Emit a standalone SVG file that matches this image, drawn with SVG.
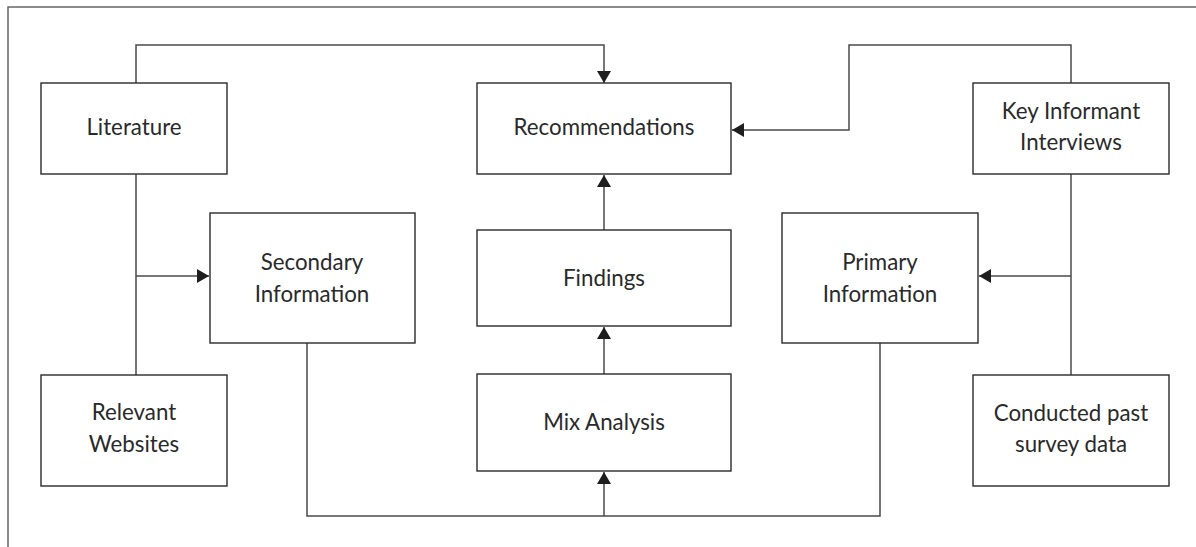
<svg xmlns="http://www.w3.org/2000/svg" width="1196" height="547" viewBox="0 0 1196 547">
<style>
.box{fill:#fff;stroke:#2a2a2a;stroke-width:1.4}
.con{fill:none;stroke:#4a4a4a;stroke-width:1.5}
.frame{fill:none;stroke:#666;stroke-width:1.5}
text{font-family:Lato,"Open Sans",sans-serif;font-size:22.3px;fill:#2a2a2a;text-anchor:middle}
</style>
<defs>
<marker id="arr" viewBox="0 0 12 14" refX="12" refY="7" markerWidth="12" markerHeight="14" markerUnits="userSpaceOnUse" orient="auto">
<path d="M0,0 L12,7 L0,14 Z" fill="#1e1e1e"/>
</marker>
</defs>
<rect width="1196" height="547" fill="#fff"/>
<path class="frame" d="M8,547 V7 H1196"/>
<g id="connectors">
<path class="con" d="M136,83 V45 H604 V83" marker-end="url(#arr)"/>
<path class="con" d="M1071,83 V45 H849 V130 H732" marker-end="url(#arr)"/>
<path class="con" d="M604,230 V175" marker-end="url(#arr)"/>
<path class="con" d="M604,374 V327" marker-end="url(#arr)"/>
<path class="con" d="M307,343 V516 H880 V343"/>
<path class="con" d="M604,516 V472" marker-end="url(#arr)"/>
<path class="con" d="M136,174 V375"/>
<path class="con" d="M136,276 H209" marker-end="url(#arr)"/>
<path class="con" d="M1071,174 V375"/>
<path class="con" d="M1071,276 H979" marker-end="url(#arr)"/>
</g>
<g id="literature"><rect class="box" x="41" y="83" width="186" height="91"/><text x="134" y="135">Literature</text></g>
<g id="recommendations"><rect class="box" x="477" y="83" width="254" height="91"/><text x="604" y="135">Recommendations</text></g>
<g id="key-informant"><rect class="box" x="973" y="83" width="196" height="91"/><text x="1071" y="119">Key Informant</text><text x="1071" y="150">Interviews</text></g>
<g id="secondary"><rect class="box" x="210" y="213" width="205" height="130"/><text x="312" y="270">Secondary</text><text x="312" y="302">Information</text></g>
<g id="findings"><rect class="box" x="477" y="230" width="254" height="96"/><text x="604" y="286">Findings</text></g>
<g id="primary"><rect class="box" x="782" y="213" width="196" height="130"/><text x="880" y="270">Primary</text><text x="880" y="302">Information</text></g>
<g id="relevant"><rect class="box" x="41" y="375" width="186" height="111"/><text x="134" y="420">Relevant</text><text x="134" y="452">Websites</text></g>
<g id="mix-analysis"><rect class="box" x="477" y="374" width="254" height="97"/><text x="604" y="430">Mix Analysis</text></g>
<g id="conducted"><rect class="box" x="973" y="375" width="196" height="111"/><text x="1071" y="421">Conducted past</text><text x="1071" y="452">survey data</text></g>
</svg>
